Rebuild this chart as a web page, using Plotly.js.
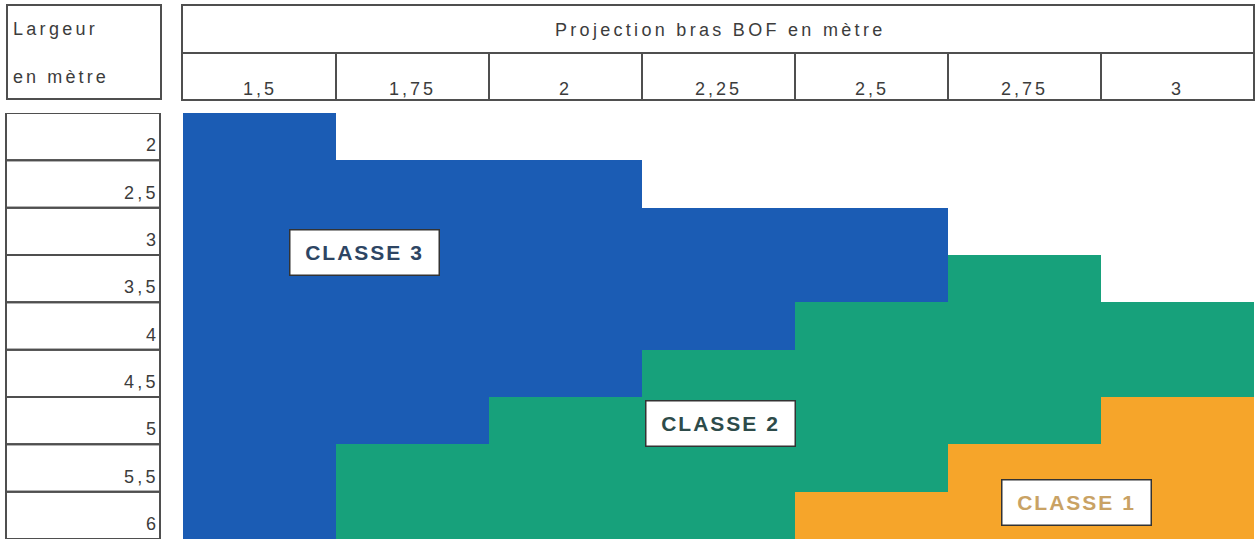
<!DOCTYPE html>
<html>
<head>
<meta charset="utf-8">
<script src="https://cdn.plot.ly/plotly-3.0.1.min.js"></script>
<style>
html,body{margin:0;padding:0;background:#fff;}
#chart{width:1258px;height:539px;}
</style>
</head>
<body>
<div id="chart"></div>
<script>
// ---- data ----
const largeurs = ['2','2,5','3','3,5','4','4,5','5','5,5','6'];
const projections = ['1,5','1,75','2','2,25','2,5','2,75','3'];
// class per cell (row = largeur, col = projection); null = no class
const row_2   = [3, null, null, null, null, null, null];
const row_2_5 = [3, 3, 3, null, null, null, null];
const row_3   = [3, 3, 3, 3, 3, null, null];
const row_3_5 = [3, 3, 3, 3, 3, 2, null];
const row_4   = [3, 3, 3, 3, 2, 2, 2];
const row_4_5 = [3, 3, 3, 2, 2, 2, 2];
const row_5   = [3, 3, 2, 2, 2, 2, 1];
const row_5_5 = [3, 2, 2, 2, 2, 1, 1];
const row_6   = [3, 2, 2, 2, 1, 1, 1];
const classLabels = ['CLASSE 1','CLASSE 2','CLASSE 3'];
const headerTitle = 'Projection bras BOF en mètre';
const cornerLines = ['Largeur','en mètre'];

const z = [row_2,row_2_5,row_3,row_3_5,row_4,row_4_5,row_5,row_5_5,row_6];

// ---- styling ----
const BLUE='#1b5cb4', GREEN='#17a17b', ORANGE='#f6a52a';
const LINE='#4f4f4f', TXT='#3c3c3c';
const FONT='"Liberation Sans", Arial, sans-serif';
const W=1258, H=539, ML=183, MR=4, MT=113, MB=0;
const PW=W-ML-MR, PH=H-MT-MB;
const fx = p => (p-ML)/PW;
const fy = p => (H-MB-p)/PH;
const sp = (t, s) => `<span style="letter-spacing:${s}px">${t}</span>`;

const shapes = [];
// corner box
shapes.push({type:'rect',xref:'paper',yref:'paper',x0:fx(7),x1:fx(161),y0:fy(99),y1:fy(5),line:{color:LINE,width:2}});
// header box
shapes.push({type:'rect',xref:'paper',yref:'paper',x0:fx(182),x1:fx(1254),y0:fy(100),y1:fy(5),line:{color:LINE,width:2}});
shapes.push({type:'line',xref:'paper',yref:'paper',x0:fx(182),x1:fx(1254),y0:fy(53),y1:fy(53),line:{color:LINE,width:2}});
for(let i=1;i<projections.length;i++){
  shapes.push({type:'line',xref:'x',yref:'paper',x0:i-0.5,x1:i-0.5,y0:fy(53),y1:fy(100),line:{color:LINE,width:2}});
}
// row label boxes
largeurs.forEach((l,i)=>{
  shapes.push({type:'rect',xref:'paper',yref:'y',x0:fx(6),x1:fx(160),y0:i-0.5,y1:i+0.5,line:{color:LINE,width:2}});
});

const annotations = [];
const tf = {family:FONT,size:18,color:TXT};
annotations.push({xref:'paper',yref:'paper',x:fx(11),y:fy(29),xanchor:'left',yanchor:'middle',text:sp(cornerLines[0],3.3),showarrow:false,font:tf});
annotations.push({xref:'paper',yref:'paper',x:fx(11),y:fy(77),xanchor:'left',yanchor:'middle',text:sp(cornerLines[1],3.1),showarrow:false,font:tf});
annotations.push({xref:'paper',yref:'paper',x:fx(720),y:fy(30),xanchor:'center',yanchor:'middle',text:sp(headerTitle,3.3),showarrow:false,font:tf});
projections.forEach((p,i)=>{
  annotations.push({xref:'x',yref:'paper',x:i,y:fy(89),xanchor:'center',yanchor:'middle',text:sp(p,3),showarrow:false,font:tf});
});
largeurs.forEach((l,i)=>{
  annotations.push({xref:'paper',yref:'y',x:fx(161),y:i+0.5,xanchor:'right',yanchor:'bottom',yshift:3,text:sp(l,3.3),showarrow:false,font:tf});
});
const classPos = [[5.343,7.72],[3.016,6.05],[0.683,2.44]];
const classTxt = ['#c9a264','#2d4b4a','#2d4563'];
classLabels.forEach((c,i)=>{
  annotations.push({xref:'x',yref:'y',x:classPos[i][0],y:classPos[i][1],xanchor:'center',yanchor:'middle',
    text:'<b>'+sp(c,2)+'</b>',showarrow:false,width:148,height:44,borderpad:0,bgcolor:'#ffffff',bordercolor:'#333333',borderwidth:1.5,
    font:{family:FONT,size:21,color:classTxt[i]}});
});

const trace = {
  type:'heatmap', x:projections, y:largeurs, z:z,
  zmin:1, zmax:3, showscale:false, hoverinfo:'skip',
  colorscale:[[0,ORANGE],[0.3333,ORANGE],[0.3333,GREEN],[0.6667,GREEN],[0.6667,BLUE],[1,BLUE]]
};

const layout = {
  width:W, height:H, margin:{l:ML,r:MR,t:MT,b:MB,pad:0},
  paper_bgcolor:'#ffffff', plot_bgcolor:'#ffffff', showlegend:false,
  xaxis:{type:'category',range:[-0.5,6.5],showticklabels:false,ticks:'',showgrid:false,zeroline:false,showline:false,fixedrange:true},
  yaxis:{type:'category',range:[8.5,-0.5],showticklabels:false,ticks:'',showgrid:false,zeroline:false,showline:false,fixedrange:true},
  shapes:shapes, annotations:annotations
};
Plotly.newPlot('chart',[trace],layout,{staticPlot:true,displayModeBar:false});
</script>
</body>
</html>
